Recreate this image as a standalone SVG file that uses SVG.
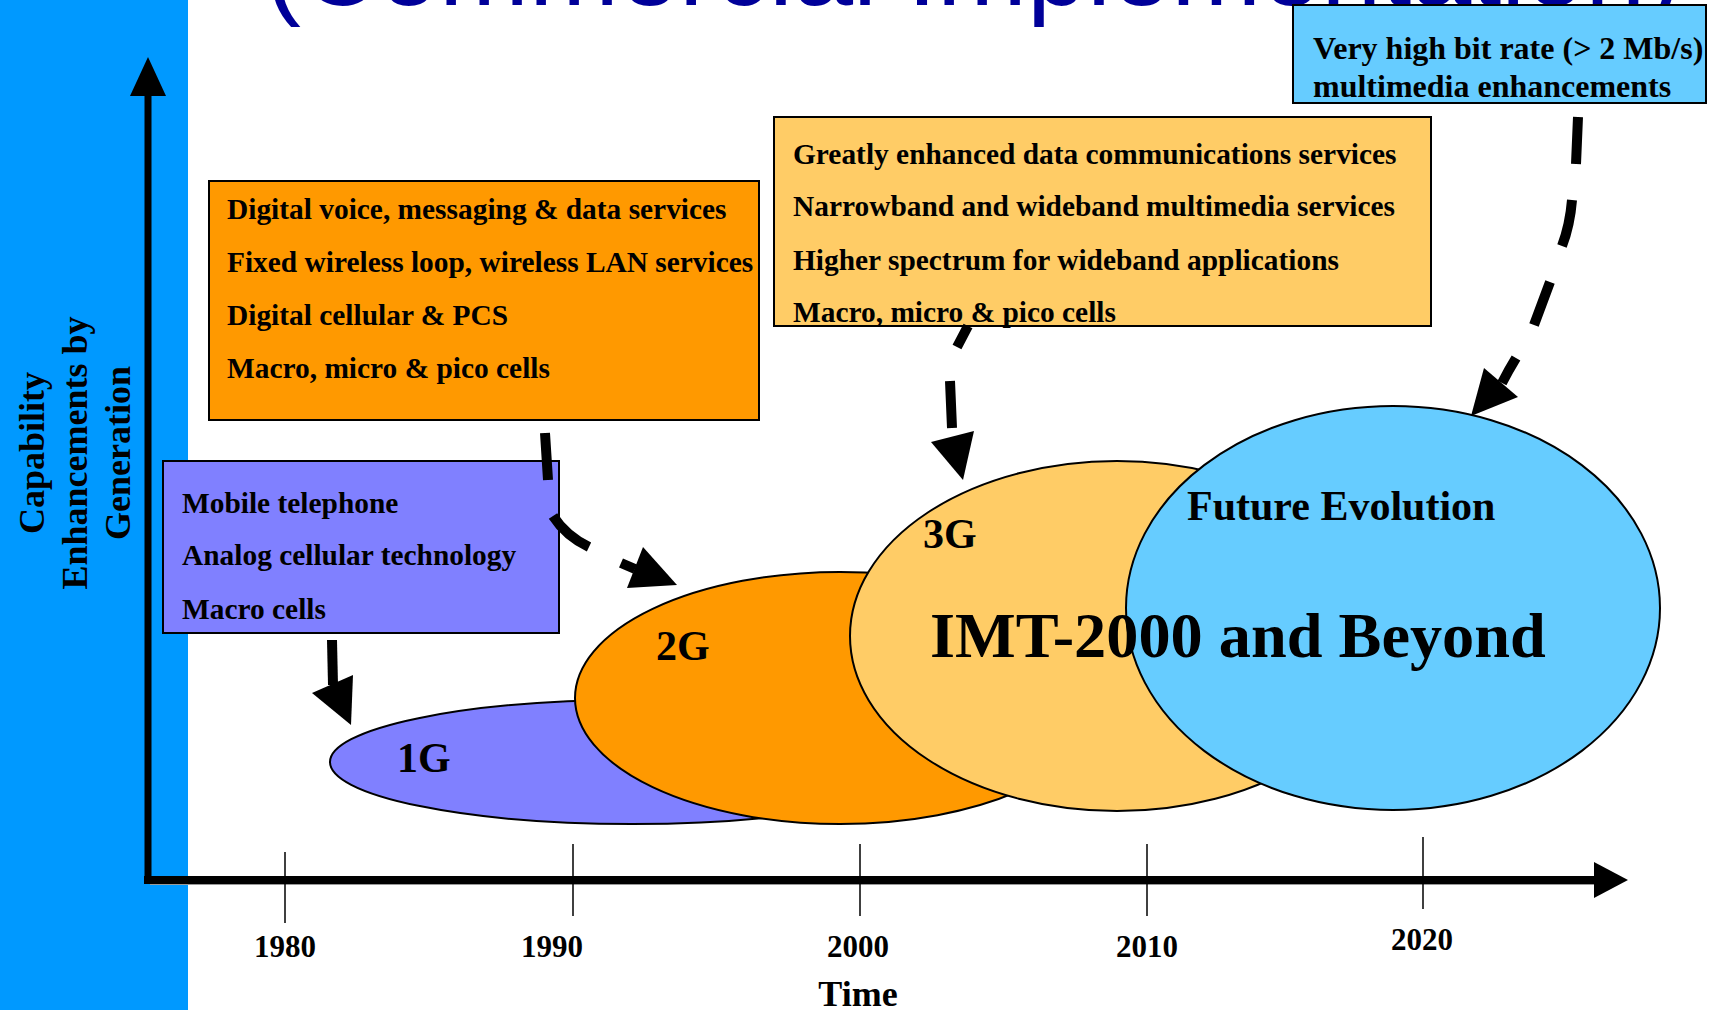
<svg xmlns="http://www.w3.org/2000/svg" width="1710" height="1010" viewBox="0 0 1710 1010">
<style>
.s{font-family:"Liberation Serif","Times New Roman",serif;font-weight:bold;fill:#000}
.bx{font-size:29.4px}
.fb{font-size:32px}
.lab{font-size:42px}
.yr{font-size:31px;text-anchor:middle}
.ax{font-size:36px;text-anchor:middle}
.title{font-family:"Liberation Sans",Arial,sans-serif;font-size:108px;fill:#000099}
.edge{stroke:#000;stroke-width:2}
.ell{stroke:#000;stroke-width:2}
.dash{fill:none;stroke:#000;stroke-width:10;stroke-linecap:butt;stroke-linejoin:miter}
.head{fill:#000}
.tick{stroke:#000;stroke-width:1.5}
</style>
<rect x="0" y="0" width="1710" height="1010" fill="#fff"/>
<rect x="0" y="0" width="188" height="1010" fill="#0099ff"/>
<text class="title" x="265" y="5">(Commercial Implementation)</text>

<g id="y-label" class="s ax">
<text transform="translate(44,453) rotate(-90)">Capability</text>
<text transform="translate(87,453) rotate(-90)">Enhancements by</text>
<text transform="translate(130,453) rotate(-90)">Generation</text>
</g>

<g id="axes">
<line x1="148" y1="92" x2="148" y2="884" stroke="#000" stroke-width="7"/>
<polygon points="148,57 130,96 166,96" fill="#000"/>
<line x1="150" y1="884" x2="1598" y2="884" stroke="#999" stroke-width="2"/>
<line x1="144" y1="880" x2="1598" y2="880" stroke="#000" stroke-width="8"/>
<polygon points="1628,880 1594,862 1594,898" fill="#000"/>
<line class="tick" x1="285" y1="852" x2="285" y2="923"/>
<line class="tick" x1="573" y1="844" x2="573" y2="916"/>
<line class="tick" x1="860" y1="844" x2="860" y2="916"/>
<line class="tick" x1="1147" y1="844" x2="1147" y2="916"/>
<line class="tick" x1="1423" y1="837" x2="1423" y2="909"/>
<text class="s yr" x="285" y="957">1980</text>
<text class="s yr" x="552" y="957">1990</text>
<text class="s yr" x="858" y="957">2000</text>
<text class="s yr" x="1147" y="957">2010</text>
<text class="s yr" x="1422" y="950">2020</text>
<text class="s ax" x="858" y="1006">Time</text>
</g>

<g id="gen1">
<ellipse class="ell" cx="632" cy="762" rx="302" ry="62" fill="#8080ff"/>
<text class="s lab" x="397" y="772">1G</text>
</g>
<g id="gen2">
<ellipse class="ell" cx="840" cy="698" rx="265" ry="126" fill="#ff9900"/>
<text class="s lab" x="656" y="660">2G</text>
</g>
<g id="gen3">
<ellipse class="ell" cx="1117" cy="636" rx="267" ry="175" fill="#ffcc66"/>
<text class="s lab" x="923" y="548">3G</text>
</g>
<g id="future">
<ellipse class="ell" cx="1393" cy="608" rx="267" ry="202" fill="#66ccff"/>
<text class="s lab" x="1187" y="520" font-size="42.5">Future Evolution</text>
</g>
<text id="imt" class="s" x="930" y="657" font-size="64.3">IMT-2000 and Beyond</text>

<g id="box1g">
<rect class="edge" x="163" y="461" width="396" height="172" fill="#8080ff"/>
<text class="s bx" x="182" y="513">Mobile telephone</text>
<text class="s bx" x="182" y="565">Analog cellular technology</text>
<text class="s bx" x="182" y="619">Macro cells</text>
</g>
<g id="box2g">
<rect class="edge" x="209" y="181" width="550" height="239" fill="#ff9900"/>
<text class="s bx" x="227" y="219">Digital voice, messaging &amp; data services</text>
<text class="s bx" x="227" y="272">Fixed wireless loop, wireless LAN services</text>
<text class="s bx" x="227" y="325">Digital cellular &amp; PCS</text>
<text class="s bx" x="227" y="378">Macro, micro &amp; pico cells</text>
</g>
<g id="box3g">
<rect class="edge" x="774" y="117" width="657" height="209" fill="#ffcc66"/>
<text class="s bx" x="793" y="164">Greatly enhanced data communications services</text>
<text class="s bx" x="793" y="216">Narrowband and wideband multimedia services</text>
<text class="s bx" x="793" y="270">Higher spectrum for wideband applications</text>
<text class="s bx" x="793" y="322">Macro, micro &amp; pico cells</text>
</g>
<g id="boxfuture">
<rect class="edge" x="1293" y="5" width="413" height="98" fill="#66ccff"/>
<text class="s fb" x="1313" y="59">Very high bit rate (&gt; 2 Mb/s)</text>
<text class="s fb" x="1313" y="97">multimedia enhancements</text>
</g>

<g id="connectors">
<path class="dash" d="M332 640 L333 685"/>
<polygon class="head" points="312,693 353,675 351,725"/>
<path class="dash" d="M545 433 L548 480 M553 516 Q566 536 589 547 M621 563 L635 569"/>
<polygon class="head" points="643,547 677,585 627,588"/>
<path class="dash" d="M968 326 L957 347 M950 381 L952 428"/>
<polygon class="head" points="931,442 974,431 963,480"/>
<path class="dash" d="M1578 117 L1576 164 M1572 200 Q1570 225 1562 246 M1550 282 L1534 325 M1516 358 L1509 370 L1502 383"/>
<polygon class="head" points="1484,368 1518,397 1471,416"/>
</g>
</svg>
